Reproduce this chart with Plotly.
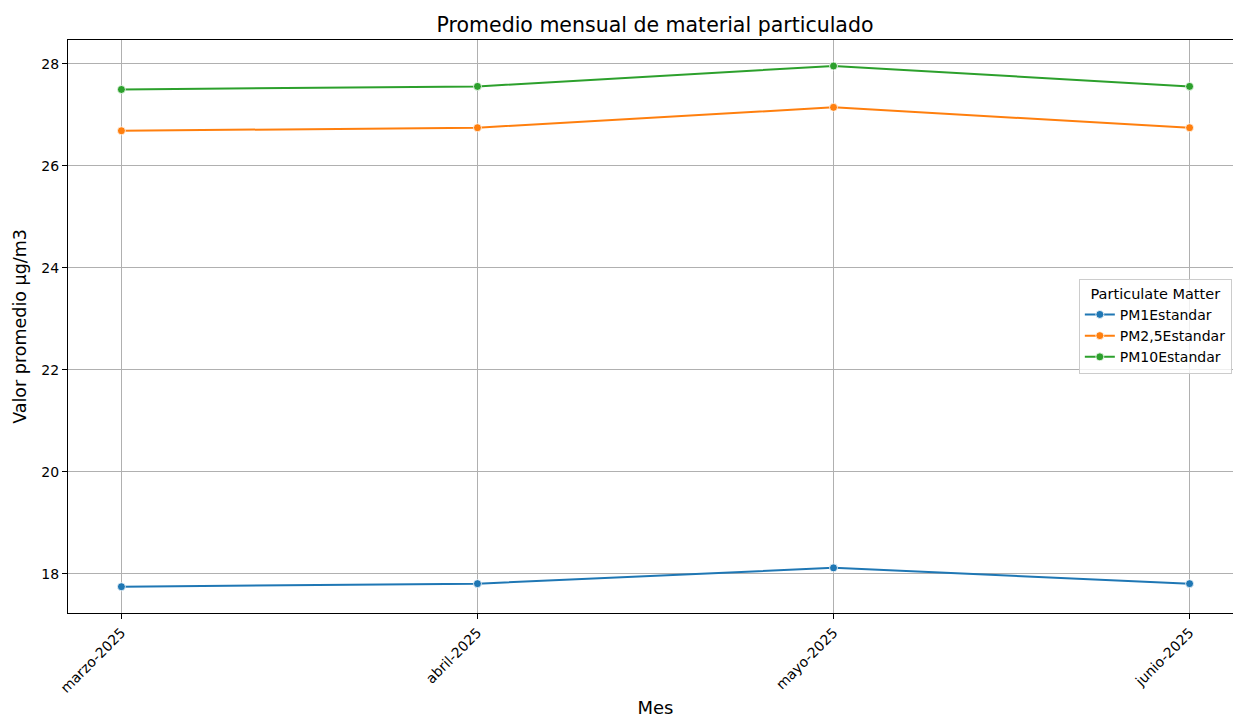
import plotly.graph_objects as go

meses = ['marzo-2025', 'abril-2025', 'mayo-2025', 'junio-2025']
pm1 = [17.75, 17.81, 18.12, 17.81]
pm25 = [26.69, 26.75, 27.15, 26.75]
pm10 = [27.50, 27.56, 27.96, 27.56]

series = [
    ('PM1Estandar', pm1, '#1f77b4'),
    ('PM2,5Estandar', pm25, '#ff7f0e'),
    ('PM10Estandar', pm10, '#2ca02c'),
]

fig = go.Figure()
for name, vals, color in series:
    fig.add_trace(go.Scatter(
        x=list(range(len(meses))), y=vals, name=name, mode='lines+markers',
        line=dict(color=color, width=2),
        marker=dict(color=color, size=8, line=dict(color='white', width=0.8)),
    ))

# el original recorta el eje por la derecha, por eso el ancho pasa de 1233
fig.update_layout(
    width=1246, height=718,
    margin=dict(l=68, r=3, t=40, b=105, autoexpand=False),
    paper_bgcolor='white', plot_bgcolor='white',
    font=dict(family='DejaVu Sans', size=14, color='#000'),
    title=dict(text='Promedio mensual de material particulado', x=655 / 1246, xref='container',
               xanchor='center', y=0.966, yref='container', yanchor='middle',
               font=dict(size=20.5)),
    xaxis=dict(
        tickmode='array', tickvals=list(range(len(meses))), ticktext=meses,
        tickangle=-45, range=[-0.15, 3.15], automargin=False,
        showgrid=True, gridcolor='#b0b0b0', gridwidth=1,
        showline=True, linecolor='black', linewidth=1, mirror=True,
        ticks='outside', ticklen=5, tickcolor='black',
        title=dict(text='Mes', font=dict(size=18), standoff=16),
        zeroline=False,
    ),
    yaxis=dict(
        tickvals=[18, 20, 22, 24, 26, 28], range=[17.235, 28.47], automargin=False,
        showgrid=True, gridcolor='#b0b0b0', gridwidth=1,
        showline=True, linecolor='black', linewidth=1, mirror=True,
        ticks='outside', ticklen=5, tickcolor='black',
        title=dict(text='Valor promedio µg/m3', font=dict(size=17.5), standoff=10),
        zeroline=False,
    ),
    legend=dict(
        title=dict(text='Particulate Matter', side='top center', font=dict(size=14.5)),
        x=0.9905, xanchor='right', y=0.5, yanchor='middle',
        bgcolor='rgba(255,255,255,0.8)', bordercolor='#cccccc', borderwidth=1,
        font=dict(size=14), itemwidth=30, tracegroupgap=0,
    ),
)

fig.write_html('out.html', config={'displayModeBar': False},
               post_script="document.body.style.margin='0';document.body.style.overflow='hidden';")
